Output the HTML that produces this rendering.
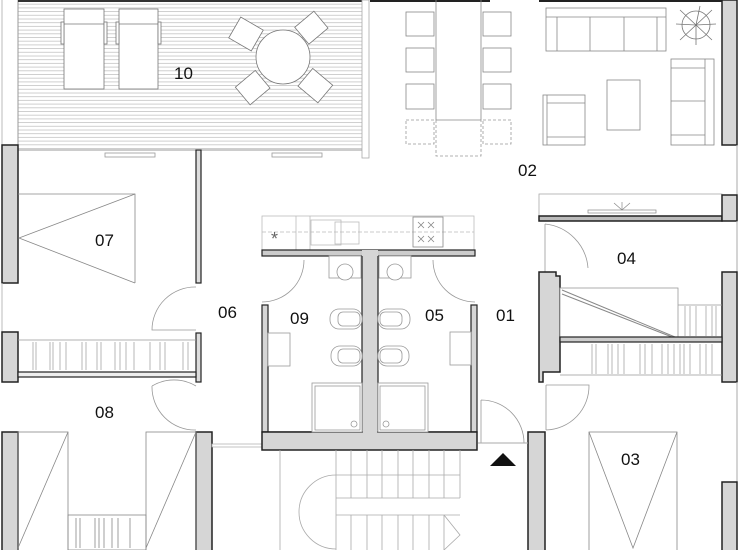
<!DOCTYPE html>
<html><head><meta charset="utf-8"><style>
html,body{margin:0;padding:0;background:#fff}
svg{display:block}
text{font-family:"Liberation Sans",sans-serif;font-size:17px;fill:#111}
</style></head><body>
<svg width="740" height="550" viewBox="0 0 740 550" xmlns="http://www.w3.org/2000/svg">
<defs>
<pattern id="deck" width="10" height="3.7" patternUnits="userSpaceOnUse">
<line x1="0" y1="0.5" x2="10" y2="0.5" stroke="#bbb" stroke-width="0.7"/>
</pattern>
</defs>
<rect width="740" height="550" fill="#fff"/>
<!-- terrace -->
<rect x="18" y="0" width="344" height="150" fill="url(#deck)"/>
<line x1="18" y1="0" x2="18" y2="150" stroke="#999" stroke-width="1"/>
<line x1="2" y1="0" x2="2" y2="145" stroke="#bbb"/>
<line x1="18" y1="1" x2="362" y2="1" stroke="#333" stroke-width="2"/>
<rect x="362" y="0" width="7" height="158" fill="#fff" stroke="#aaa" stroke-width="0.8"/>
<line x1="18" y1="150" x2="362" y2="150" stroke="#999"/>
<rect x="105" y="153" width="50" height="4" fill="#fff" stroke="#999" stroke-width="0.8"/>
<rect x="272" y="153" width="50" height="4" fill="#fff" stroke="#999" stroke-width="0.8"/>
<!-- loungers -->
<g fill="#fff" stroke="#777" stroke-width="0.8">
<rect x="64" y="9" width="40" height="80"/><line x1="64" y1="24" x2="104" y2="24"/>
<rect x="119" y="9" width="39" height="80"/><line x1="119" y1="24" x2="158" y2="24"/>
<rect x="61" y="22" width="3" height="22"/><rect x="104" y="22" width="3" height="22"/>
<rect x="116" y="22" width="3" height="22"/><rect x="158" y="22" width="3" height="22"/>
<circle cx="283" cy="57" r="27"/>
<rect x="233" y="22" width="26" height="24" transform="rotate(30 246 34)"/>
<rect x="299" y="17" width="25" height="22" transform="rotate(-40 311 28)"/>
<rect x="240" y="76" width="26" height="23" transform="rotate(-40 253 88)"/>
<rect x="302" y="74" width="26" height="23" transform="rotate(40 315 86)"/>
</g>
<text x="174" y="79">10</text>
<!-- living top walls -->
<line x1="370" y1="1" x2="490" y2="1" stroke="#222" stroke-width="2"/>
<line x1="539" y1="1" x2="723" y2="1" stroke="#222" stroke-width="2"/>
<rect x="722" y="0" width="15" height="145" fill="#d6d6d6" stroke="#222" stroke-width="1.5"/>
<line x1="737" y1="145" x2="737" y2="195" stroke="#aaa"/>
<!-- dining -->
<g fill="#fff" stroke="#888" stroke-width="0.8">
<line x1="436" y1="0" x2="436" y2="120"/><line x1="481" y1="0" x2="481" y2="120"/>
<line x1="436" y1="120" x2="481" y2="120"/>
<rect x="406" y="12" width="28" height="24"/><rect x="406" y="48" width="28" height="24"/><rect x="406" y="84" width="28" height="25"/>
<rect x="483" y="12" width="28" height="24"/><rect x="483" y="48" width="28" height="24"/><rect x="483" y="84" width="28" height="25"/>
</g>
<g fill="none" stroke="#999" stroke-width="0.8" stroke-dasharray="3 2">
<rect x="406" y="120" width="28" height="24"/><rect x="483" y="120" width="28" height="24"/>
<polyline points="436,120 436,156 481,156 481,120"/>
</g>
<!-- living furniture -->
<g fill="#fff" stroke="#888" stroke-width="0.8">
<rect x="546" y="8" width="120" height="43"/><line x1="546" y1="17" x2="666" y2="17"/>
<line x1="557" y1="17" x2="557" y2="51"/><line x1="590" y1="17" x2="590" y2="51"/><line x1="624" y1="17" x2="624" y2="51"/><line x1="657" y1="17" x2="657" y2="51"/>
<rect x="671" y="59" width="43" height="86"/><line x1="671" y1="68" x2="705" y2="68"/><line x1="671" y1="101" x2="705" y2="101"/><line x1="671" y1="135" x2="705" y2="135"/><line x1="705" y1="59" x2="705" y2="145"/>
<rect x="607" y="80" width="33" height="50"/>
<rect x="543" y="95" width="42" height="50"/><line x1="547" y1="95" x2="547" y2="145"/><line x1="547" y1="103" x2="585" y2="103"/><line x1="547" y1="137" x2="585" y2="137"/>
</g>
<g stroke="#777" stroke-width="0.8" fill="none">
<path d="M696,25 L680,10 M696,25 L700,6 M696,25 L712,10 M696,25 L716,24 M696,25 L712,40 M696,25 L696,45 M696,25 L680,40 M696,25 L676,24"/>
<circle cx="696" cy="25" r="14"/>
</g>
<text x="518" y="176">02</text>
<!-- 04 top wall -->
<rect x="539" y="194" width="183" height="22" fill="#fff" stroke="#aaa" stroke-width="0.8"/>
<rect x="588" y="210" width="68" height="3" fill="#fff" stroke="#888" stroke-width="0.7"/>
<path d="M622,210 L622,202 M622,210 L614,203 M622,210 L630,203" stroke="#888" stroke-width="0.7"/>
<rect x="539" y="216" width="183" height="5" fill="#bbb" stroke="#222" stroke-width="1.5"/>
<rect x="722" y="195" width="15" height="26" fill="#d6d6d6" stroke="#222" stroke-width="1.5"/>
<line x1="737" y1="221" x2="737" y2="272" stroke="#aaa"/>
<path d="M545,224 L545,272 M545,224 A48,48 0 0 1 588,268" stroke="#999" fill="none" stroke-width="0.8"/>
<text x="617" y="264">04</text>
<path d="M539,272 L556,272 L556,276 L560,276 L560,372 L543,372 L543,382 L539,382 Z" fill="#d6d6d6" stroke="#222" stroke-width="1.5"/>
<rect x="722" y="272" width="15" height="110" fill="#d6d6d6" stroke="#222" stroke-width="1.5"/>
<rect x="560" y="288" width="118" height="50" fill="#fff" stroke="#999" stroke-width="0.8"/>
<line x1="562" y1="290" x2="675" y2="337" stroke="#888"/><line x1="562" y1="294" x2="672" y2="337" stroke="#888"/>
<rect x="560" y="337" width="162" height="5" fill="#ccc" stroke="#222" stroke-width="1.2"/>
<g stroke="#999" stroke-width="0.7">
<line x1="678" y1="305" x2="722" y2="305"/>
<path d="M685,306v30M690,306v30M696,306v30M706,306v30M712,306v30M716,306v30"/>
<line x1="560" y1="375" x2="722" y2="375"/>
<path d="M592,344v30M596,344v30M608,344v30M612,344v30M618,344v30M624,344v30M640,344v30M645,344v30M652,344v30M662,344v30M668,344v30M674,344v30M680,344v30M684,344v30M690,344v30M700,344v30M706,344v30M712,344v30"/>
</g>
<path d="M546,385 L546,430 M546,385 L589,385 A44,44 0 0 1 546,430" stroke="#999" fill="none" stroke-width="0.8"/>
<line x1="737" y1="382" x2="737" y2="482" stroke="#aaa"/>
<rect x="528" y="432" width="17" height="120" fill="#d6d6d6" stroke="#222" stroke-width="1.5"/>
<rect x="722" y="482" width="15" height="70" fill="#d6d6d6" stroke="#222" stroke-width="1.5"/>
<g fill="none" stroke="#888" stroke-width="0.8">
<rect x="589" y="432" width="88" height="120"/>
<polyline points="589,432 633,548 677,432"/>
</g>
<text x="621" y="465">03</text>
<!-- room 07 -->
<rect x="2" y="145" width="16" height="138" fill="#d6d6d6" stroke="#222" stroke-width="1.5"/>
<rect x="196" y="150" width="5" height="133" fill="#ddd" stroke="#222" stroke-width="1.2"/>
<g fill="none" stroke="#888" stroke-width="0.8">
<polyline points="18,194 135,194 135,283"/>
<polyline points="135,194 19,238 135,283"/>
</g>
<text x="95" y="246">07</text>
<line x1="2" y1="283" x2="2" y2="332" stroke="#bbb"/>
<path d="M196,287 A43,43 0 0 0 152,330 L196,330" stroke="#999" fill="none" stroke-width="0.8"/>
<text x="218" y="318">06</text>
<rect x="2" y="332" width="16" height="50" fill="#d6d6d6" stroke="#222" stroke-width="1.5"/>
<rect x="196" y="333" width="5" height="49" fill="#ddd" stroke="#222" stroke-width="1.2"/>
<rect x="18" y="372" width="178" height="5" fill="#eee" stroke="#222" stroke-width="1.2"/>
<g stroke="#999" stroke-width="0.7">
<line x1="18" y1="340" x2="196" y2="340"/>
<path d="M33,342v28M36,342v28M50,342v28M53,342v28M60,342v28M66,342v28M82,342v28M86,342v28M97,342v28M101,342v28M115,342v28M120,342v28M126,342v28M134,342v28M150,342v28M160,342v28M165,342v28M183,342v28M188,342v28"/>
</g>
<path d="M196,386 A43,43 0 0 0 152,386 M152,386 A43,43 0 0 0 196,430" stroke="#999" fill="none" stroke-width="0.8"/>
<text x="95" y="418">08</text>
<rect x="2" y="432" width="16" height="120" fill="#d6d6d6" stroke="#222" stroke-width="1.5"/>
<rect x="196" y="432" width="16" height="120" fill="#d6d6d6" stroke="#222" stroke-width="1.5"/>
<g fill="none" stroke="#888" stroke-width="0.8">
<rect x="18" y="432" width="50" height="120"/><line x1="18" y1="548" x2="68" y2="432"/>
<rect x="146" y="432" width="50" height="120"/><line x1="146" y1="548" x2="196" y2="432"/>
<rect x="68" y="515" width="78" height="35"/>
<path d="M76,518v30M80,518v30M95,518v30M99,518v30M104,518v30M112,518v30M118,518v30M130,518v30"/>
</g>
<rect x="212" y="444" width="50" height="3" fill="#fff" stroke="#aaa" stroke-width="0.7"/>
<!-- kitchen -->
<g fill="none" stroke="#bbb" stroke-width="0.8">
<rect x="262" y="216" width="212" height="35"/>
<line x1="262" y1="232" x2="474" y2="232" stroke-dasharray="4 2"/>
<line x1="296" y1="216" x2="296" y2="251"/><line x1="310" y1="216" x2="310" y2="251"/>
<rect x="311" y="220" width="30" height="25"/><rect x="335" y="222" width="24" height="22"/>
<rect x="413" y="217" width="30" height="30" stroke="#888"/>
<path d="M418,222l6,6M424,222l-6,6M428,222l6,6M434,222l-6,6M418,236l6,6M424,236l-6,6M428,236l6,6M434,236l-6,6" stroke="#888"/>
</g>
<text x="271" y="245" style="font-size:18px;fill:#666">*</text>
<!-- bathrooms -->
<rect x="262" y="250" width="213" height="6" fill="#ccc" stroke="#222" stroke-width="1.2"/>
<rect x="362" y="250" width="16" height="183" fill="#d6d6d6" stroke="none"/>
<path d="M362,256 L362,432 M378,256 L378,432" stroke="#222" stroke-width="1.2"/>
<rect x="262" y="305" width="6" height="127" fill="#d6d6d6" stroke="#222" stroke-width="1.2"/>
<rect x="471" y="305" width="6" height="127" fill="#d6d6d6" stroke="#222" stroke-width="1.2"/>
<path d="M262,432 L362,432 M378,432 L477,432" stroke="#222" stroke-width="1.2"/>
<rect x="262" y="432" width="215" height="18" fill="#d6d6d6" stroke="#222" stroke-width="1.5"/>
<rect x="362.8" y="430" width="14.4" height="4" fill="#d6d6d6"/>
<g fill="#fff" stroke="#999" stroke-width="0.8">
<path d="M262,302 A42,42 0 0 0 304,260"/>
<path d="M475,302 A42,42 0 0 1 433,260"/>
<rect x="329" y="256" width="32" height="22"/><circle cx="345" cy="272" r="8"/>
<rect x="379" y="256" width="32" height="22"/><circle cx="395" cy="272" r="8"/>
<rect x="330" y="309" width="32" height="20" rx="9"/><rect x="338" y="312" width="22" height="14" rx="5"/>
<rect x="331" y="346" width="31" height="20" rx="9"/><rect x="338" y="349" width="22" height="14" rx="5"/>
<rect x="378" y="309" width="32" height="20" rx="9"/><rect x="380" y="312" width="22" height="14" rx="5"/>
<rect x="378" y="346" width="31" height="20" rx="9"/><rect x="380" y="349" width="22" height="14" rx="5"/>
<rect x="268" y="333" width="22" height="33"/>
<rect x="450" y="332" width="21" height="33"/>
<rect x="312" y="383" width="50" height="49"/><rect x="315" y="386" width="45" height="44"/><circle cx="354" cy="424" r="3"/>
<rect x="378" y="383" width="50" height="49"/><rect x="380" y="386" width="45" height="44"/><circle cx="386" cy="424" r="3"/>
</g>
<text x="290" y="324">09</text>
<text x="425" y="321">05</text>
<text x="496" y="321">01</text>
<path d="M481,400 L481,443 M481,400 A43,43 0 0 1 524,443" stroke="#999" fill="none" stroke-width="0.8"/>
<line x1="478" y1="443" x2="528" y2="443" stroke="#aaa"/>
<polygon points="490,466 503,453 516,466" fill="#111"/>
<!-- stairs -->
<g fill="none" stroke="#aaa" stroke-width="0.8">
<line x1="280" y1="450" x2="280" y2="550"/>
<line x1="336" y1="450" x2="336" y2="550"/>
<path d="M336,475 A37,37 0 0 0 336,549"/>
<path d="M336,475 L460,475 M336,498 L460,498 M336,515 L460,515"/>
<path d="M351,450v48M367,450v48M382,450v48M398,450v48M413,450v48M429,450v48M444,450v48M460,450v48"/>
<path d="M351,515v35M367,515v35M382,515v35M398,515v35M413,515v35M429,515v35M444,515v35"/>
<path d="M444,515 L460,535 L444,550"/>
</g>
</svg>
</body></html>
